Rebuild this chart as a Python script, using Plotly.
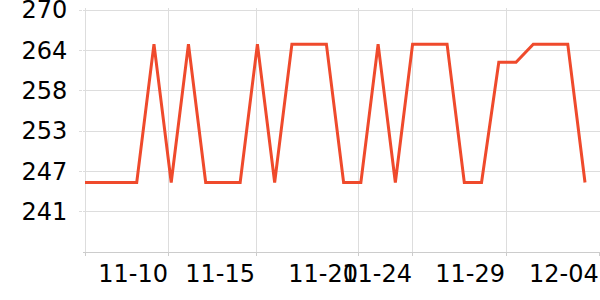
import plotly.graph_objects as go

# data: one value per observation (30 consecutive points)
values = [245.2, 245.2, 245.2, 245.2, 265.1, 245.2, 265.1, 245.2, 245.2, 245.2,
          265.1, 245.2, 265.1, 265.1, 265.1, 245.2, 245.2, 265.1, 245.2, 265.1,
          265.1, 265.1, 245.2, 245.2, 262.5, 262.5, 265.1, 265.1, 265.1, 245.2]
x_index = list(range(len(values)))

# x tick labels and their positions (in point-index units)
x_tick_labels = ["11-10", "11-15", "11-20", "11-24", "11-29", "12-04"]
x_tick_pos = [4.87, 9.92, 15.89, 19.02, 24.42, 29.86]

# y ticks
y_tick_vals = [241.0, 246.8, 252.6, 258.4, 264.2, 270.0]
y_tick_labels = ["241", "247", "253", "258", "264", "270"]
y_range = [235.2, 270.3]
x_range = [-0.116, 29.87]

fig = go.Figure()
fig.add_trace(go.Scatter(
    x=x_index, y=values, mode="lines",
    line=dict(color="#ef4a2c", width=3),
    hoverinfo="skip", showlegend=False,
))

fig.update_layout(
    width=600, height=300,
    margin=dict(l=83, r=0, t=8, b=48),
    paper_bgcolor="white", plot_bgcolor="white",
    font=dict(family="DejaVu Sans", size=24, color="#000"),
    showlegend=False,
)
fig.update_xaxes(
    range=x_range, tickmode="array",
    tickvals=[0] + x_tick_pos, ticktext=[""] + x_tick_labels,
    ticklabelposition="outside left", tickangle=0,
    showgrid=True, gridcolor="#dddddd", gridwidth=1,
    showline=True, linecolor="#cccccc", linewidth=1,
    ticks="outside", ticklen=3, tickcolor="#cccccc",
    zeroline=False, ticklabeloverflow="allow", automargin=False,
)
fig.update_yaxes(
    range=y_range, tickmode="array",
    tickvals=y_tick_vals, ticktext=y_tick_labels,
    showgrid=True, gridcolor="#dddddd", gridwidth=1,
    showline=False, ticks="outside", ticklen=3, tickcolor="#dddddd",
    zeroline=False, ticklabelstandoff=7, ticklabeloverflow="allow",
    automargin=False,
)

fig.write_html("out.html")
